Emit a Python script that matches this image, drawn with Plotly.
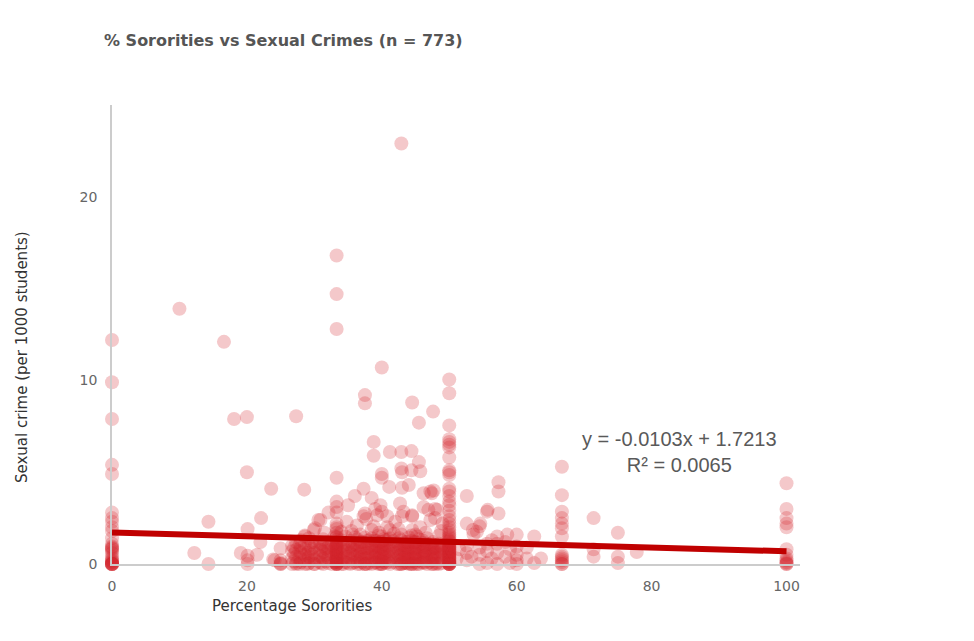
import plotly.graph_objects as go

# ---------------- data ----------------
# values at x = 0 %
x0_y = [12.2, 9.9, 7.9, 5.4, 4.9, 2.8, 2.5, 2.3, 2.0, 1.8, 1.4, 1.1, 0.9, 0.85, 0.8,
        0.6, 0.4, 0.3, 0.2, 0.1, 0.0, 0.0, 0.0, 0.0, 0.0, 0.05, 0.95, 0.7, 0.0, 0.15]
# values at x = 33.3 %
x33_y = [16.8, 14.7, 12.8, 4.7, 3.4, 3.1, 2.8, 2.2, 2.0, 1.9, 1.7, 1.5, 1.3, 1.2, 1.1,
         1.0, 0.9, 0.8, 0.7, 0.6, 0.5, 0.4, 0.3, 0.2, 0.1, 0.0, 0.0, 0.0, 0.05, 0.15,
         0.35, 0.55, 0.75, 0.95, 1.45, 1.15, 0.65, 0.25, 0.0]
# values at x = 50 %
x50_y = [10.05, 9.3, 7.55, 6.8, 6.65, 6.5, 6.35, 5.8, 5.1, 5.0, 4.85, 4.1, 3.95, 3.7,
         3.4, 3.2, 2.9, 2.6, 2.4, 2.2, 2.0, 1.85, 1.7, 1.6, 1.5, 1.4, 1.3, 1.2, 1.1,
         1.0, 0.95, 0.9, 0.8, 0.75, 0.7, 0.6, 0.55, 0.5, 0.4, 0.35, 0.3, 0.2, 0.15,
         0.1, 0.05, 0.0, 0.0, 0.0, 0.0, 0.0, 0.25, 0.45, 0.65, 0.85, 1.05, 1.25,
         0.0, 0.1, 0.3, 0.5, 0.7, 0.9]
# values at x = 66.7 %
x67_y = [5.3, 3.75, 2.85, 2.5, 2.2, 1.95, 1.5, 0.5, 0.3, 0.2, 0.1, 0.0, 0.0, 0.4]
# values at x = 100 %
x100_y = [4.4, 3.0, 2.5, 2.2, 2.0, 0.8, 0.5, 0.3, 0.1, 0.0, 0.0, 0.05, 0.2]

# scattered points (x, y pairs)
other_x = [10.0, 16.6, 18.1, 20.0, 20.0, 27.3, 23.6, 28.5, 37.5, 37.5, 40.0, 44.5, 47.6,
           45.5, 42.9, 38.8, 38.8, 41.2, 42.9, 44.4, 45.5, 42.9, 44.4, 40.0, 40.0, 43.0,
           45.7, 57.3, 57.3, 52.6, 47.4, 71.4, 71.4, 71.4, 75.0, 75.0, 75.0, 77.8, 12.2,
           14.3, 14.3, 19.1, 20.1, 20.1, 20.1, 20.1, 21.5, 22.1, 22.0, 23.9, 25.0, 25.0,
           25.0, 25.0, 25.0, 24.1]
other_y = [13.9, 12.1, 7.9, 8.0, 5.0, 8.05, 4.1, 4.05, 9.2, 8.75, 10.7, 8.8, 8.3,
           7.7, 22.9, 6.65, 5.9, 6.1, 6.1, 6.15, 5.55, 5.2, 5.1, 4.9, 4.7, 5.0,
           5.05, 4.45, 3.95, 3.7, 3.85, 2.5, 0.8, 0.4, 1.7, 0.4, 0.05, 0.65, 0.6,
           2.3, 0.0, 0.6, 1.9, 0.45, 0.0, 0.2, 0.5, 2.5, 1.2, 0.25, 0.85, 0.2,
           0.0, 0.0, 0.05, 0.2]

# middle band points (y roughly 1.5 - 4.5)
mid_x = [37.3, 38.5, 43.0, 44.0, 47.2, 47.7, 46.2, 41.1, 36.0, 39.8, 40.0, 42.7, 43.2,
         43.0, 44.5, 44.5, 46.2, 47.9, 46.9, 48.2, 47.9, 47.2, 45.7, 44.5, 41.2, 40.8,
         40.8, 39.3, 38.8, 38.5, 37.5, 37.7, 37.3, 36.3, 32.1, 30.9, 30.6, 30.1, 29.9,
         28.6, 28.6, 31.5, 34.8, 35.5, 36.8, 42.0, 42.5, 46.5, 48.8, 49.0, 39.0, 35.0,
         55.6, 57.3, 52.6, 54.5, 54.1, 53.6, 57.1, 58.6, 60.0, 62.6, 55.7, 53.5, 54.6,
         39.6, 41.8, 45.0, 48.5, 34.0]
mid_y = [4.1, 3.6, 4.15, 4.3, 3.95, 4.0, 3.85, 4.2, 3.7, 3.2, 2.85, 3.3, 2.85,
         2.6, 2.65, 2.6, 3.1, 3.0, 2.95, 2.95, 2.5, 2.4, 2.0, 1.85, 1.85, 2.6,
         2.0, 2.65, 2.05, 1.85, 2.75, 2.45, 2.6, 2.1, 2.8, 2.4, 2.4, 1.95, 1.85,
         1.55, 1.5, 1.7, 2.3, 1.8, 1.6, 2.3, 1.9, 1.7, 1.8, 2.2, 3.0, 3.2,
         2.85, 2.75, 2.2, 2.05, 1.75, 1.6, 1.5, 1.6, 1.6, 1.5, 2.95, 1.85, 2.2,
         1.7, 1.65, 1.6, 1.55, 1.75]

# dense low band (y below ~1.5): x columns and their values
low_cols = [26.7, 27.3, 28.0, 28.6, 29.2, 30.0, 30.8, 31.3, 32.0, 32.6, 34.0, 34.6,
            35.3, 35.7, 36.4, 37.0, 37.5, 38.1, 38.5, 39.1, 39.5, 40.0, 40.6, 41.2,
            41.7, 42.3, 42.9, 43.5, 44.0, 44.4, 45.0, 45.5, 46.2, 46.7, 47.1, 47.6,
            48.1, 48.5, 49.0, 51.1, 51.5, 52.6, 53.3, 54.5, 55.6, 56.3, 57.1, 58.3,
            59.0, 60.0, 61.5, 62.6, 63.6]
low_vals = [
    [0.0, 0.3, 0.7, 1.0],
    [0.0, 0.05, 0.4, 0.76, 1.2],
    [0.1, 0.58, 0.9, 1.3],
    [0.0, 0.2, 0.5, 0.8, 1.1],
    [0.05, 0.4, 0.7, 1.0, 1.4],
    [0.0, 0.25, 0.6, 0.95, 1.2, 0.0],
    [0.1, 0.45, 0.8, 1.15],
    [0.0, 0.3, 0.65, 1.0, 1.35],
    [0.05, 0.35, 0.7, 0.9, 1.2],
    [0.0, 0.5, 0.8, 1.05],
    [0.0, 0.2, 0.55, 0.85, 1.3],
    [0.1, 0.4, 0.75, 1.1, 1.5],
    [0.0, 0.3, 0.6, 0.95, 1.25],
    [0.05, 0.5, 0.8, 1.05, 1.6],
    [0.0, 0.15, 0.45, 0.7, 1.0, 1.35],
    [0.1, 0.4, 0.65, 0.9, 1.2],
    [0.0, 0.0, 0.3, 0.55, 0.85, 1.15, 1.45],
    [0.05, 0.35, 0.6, 0.95, 1.3],
    [0.0, 0.2, 0.5, 0.8, 1.05, 1.4],
    [0.1, 0.45, 0.7, 1.0, 1.25],
    [0.0, 0.3, 0.6, 0.9, 1.15, 1.55],
    [0.0, 0.0, 0.2, 0.45, 0.7, 0.95, 1.2, 1.5],
    [0.05, 0.35, 0.65, 1.0, 1.3],
    [0.0, 0.25, 0.55, 0.8, 1.1, 1.4],
    [0.1, 0.4, 0.7, 0.95, 1.25],
    [0.0, 0.3, 0.6, 0.85, 1.15],
    [0.0, 0.0, 0.2, 0.5, 0.75, 1.0, 1.3, 1.6],
    [0.05, 0.35, 0.65, 0.9, 1.2],
    [0.0, 0.25, 0.55, 0.8, 1.1, 1.45],
    [0.0, 0.0, 0.15, 0.4, 0.7, 0.95, 1.25, 1.55],
    [0.1, 0.35, 0.6, 0.9, 1.2],
    [0.0, 0.2, 0.5, 0.8, 1.05, 1.35],
    [0.05, 0.3, 0.65, 0.9, 1.15],
    [0.0, 0.25, 0.55, 0.85, 1.1, 1.4],
    [0.1, 0.4, 0.7, 1.0],
    [0.0, 0.3, 0.6, 0.85, 1.2],
    [0.05, 0.35, 0.65, 0.95],
    [0.0, 0.5, 0.8, 1.1],
    [0.2, 0.6, 0.9],
    [0.3],
    [0.8],
    [0.2, 1.0, 0.6],
    [0.4],
    [0.5, 0.0, 0.9],
    [1.1, 0.05, 0.7],
    [0.3, 1.3],
    [1.1, 0.6, 0.0],
    [1.2, 0.4],
    [0.05, 0.8],
    [0.95, 0.5, 0.0, 0.2],
    [0.3, 0.9],
    [0.05],
    [0.3],
]

# second interleaved set of low-band columns
low_cols2 = [27.0, 27.8, 29.6, 31.0, 33.0, 34.3, 36.0, 36.8, 38.9, 39.8, 41.0, 42.6,
             43.8, 45.2, 46.0, 47.4, 48.8, 29.0, 31.7, 35.0, 37.8, 40.3, 43.2, 44.8,
             46.4, 48.0]
low_vals2 = [
    [0.15, 0.55, 0.9],
    [0.0, 0.35, 0.7, 1.05],
    [0.2, 0.5, 0.85, 1.2],
    [0.05, 0.4, 0.75, 1.1],
    [0.1, 0.45, 0.8, 1.15, 1.5],
    [0.0, 0.3, 0.65, 1.0],
    [0.1, 0.4, 0.75, 1.1, 1.45],
    [0.0, 0.25, 0.55, 0.85, 1.2],
    [0.05, 0.35, 0.65, 0.95, 1.3],
    [0.0, 0.15, 0.4, 0.65, 0.9, 1.2],
    [0.1, 0.4, 0.7, 1.0, 1.35],
    [0.0, 0.2, 0.45, 0.75, 1.05, 1.4],
    [0.05, 0.3, 0.6, 0.9, 1.2],
    [0.0, 0.25, 0.55, 0.85, 1.15, 1.5],
    [0.1, 0.4, 0.7, 1.0, 1.3],
    [0.0, 0.2, 0.5, 0.8, 1.1],
    [0.05, 0.35, 0.7, 1.0],
    [0.0, 0.3, 0.6],
    [0.15, 0.5, 0.85],
    [0.05, 0.4, 0.75, 1.1],
    [0.0, 0.3, 0.6, 0.9, 1.25],
    [0.1, 0.35, 0.6, 0.85, 1.1, 1.35],
    [0.05, 0.3, 0.55, 0.8, 1.05],
    [0.0, 0.3, 0.6, 0.9, 1.2],
    [0.1, 0.45, 0.75, 1.05],
    [0.0, 0.3, 0.6, 0.9],
]

# trend line y = -0.0103x + 1.7213
trend_slope = -0.0103
trend_intercept = 1.7213
trend_x = [0, 100]

# ---------------- assemble ----------------
xs, ys = [], []
for xv, col in [(0, x0_y), (33.3, x33_y), (50, x50_y), (66.7, x67_y), (100, x100_y)]:
    xs += [xv] * len(col)
    ys += col
xs += other_x
ys += other_y
xs += mid_x
ys += mid_y
for xv, col in list(zip(low_cols, low_vals)) + list(zip(low_cols2, low_vals2)):
    xs += [xv] * len(col)
    ys += col

trend_y = [trend_slope * v + trend_intercept for v in trend_x]

fig = go.Figure()
fig.add_trace(go.Scatter(
    x=xs, y=ys, mode="markers",
    marker=dict(size=14, color="rgba(212,36,42,0.25)", line=dict(width=0)),
    cliponaxis=False, hoverinfo="x+y", showlegend=False))
fig.add_trace(go.Scatter(
    x=trend_x, y=trend_y, mode="lines",
    line=dict(color="#C00000", width=6),
    cliponaxis=False, showlegend=False))

FONT = "DejaVu Sans, sans-serif"
axis_font = dict(family=FONT, size=14, color="#666666")
fig.update_xaxes(range=[0, 102], showgrid=False, zeroline=False,
                 showline=True, linecolor="#cccccc", linewidth=1.5,
                 tickvals=[0, 20, 40, 60, 80, 100], ticks="outside",
                 ticklen=8, tickcolor="rgba(0,0,0,0)", tickfont=axis_font)
fig.update_yaxes(range=[0, 25], showgrid=False, zeroline=False,
                 showline=True, linecolor="#cccccc", linewidth=1.5,
                 tickvals=[0, 10, 20], ticks="outside",
                 ticklen=10, tickcolor="rgba(0,0,0,0)", tickfont=axis_font)

# page body adds an 8 px offset, so the figure is 8 px smaller each way
W, H = 966, 633
fig.update_layout(
    width=W, height=H,
    margin=dict(l=104, r=174, t=97, b=77, autoexpand=False),
    paper_bgcolor="white", plot_bgcolor="white",
    title=dict(text="<b>% Sororities vs Sexual Crimes (n = 773)</b>",
               x=(104 - 8) / W, xanchor="left", y=1 - (40 - 8) / H, yanchor="middle",
               font=dict(family=FONT, size=16, color="#555555")),
    annotations=[
        dict(text="Percentage Sororities", xref="paper", yref="paper",
             x=(292 - 112) / 688, y=-(606 - 564) / 459, xanchor="center",
             yanchor="middle", showarrow=False,
             font=dict(family=FONT, size=15, color="#333333")),
        dict(text="Sexual crime (per 1000 students)", xref="paper", yref="paper",
             x=-(112 - 22) / 688, y=(564 - 357) / 459, xanchor="center",
             yanchor="middle", textangle=-90, showarrow=False,
             font=dict(family=FONT, size=15, color="#333333")),
        dict(text="y = -0.0103x + 1.7213<br>R² = 0.0065", xref="paper", yref="paper",
             x=(679 - 112) / 688, y=(564 - 452) / 459, xanchor="center",
             yanchor="middle", align="center", showarrow=False,
             font=dict(family="Liberation Sans, Arial, sans-serif", size=20,
                       color="#595959")),
    ],
)

fig.write_html("out.html")
